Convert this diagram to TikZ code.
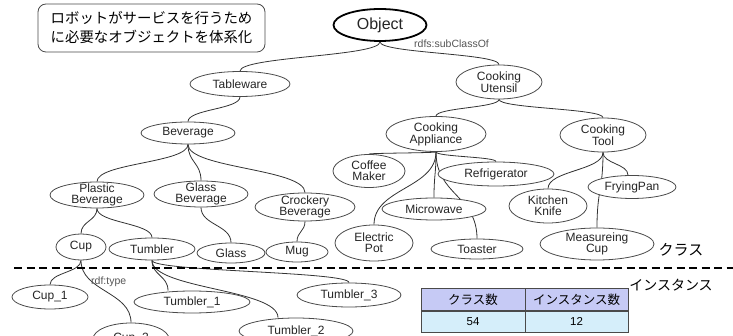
\documentclass[tikz,border=0pt]{standalone}
\usepackage{fontspec}
\setmainfont{Liberation Sans}
\newfontfamily\jp{Noto Sans CJK JP}
\usetikzlibrary{shapes.geometric,calc,backgrounds}
\definecolor{edgec}{HTML}{333333}
\definecolor{bordc}{HTML}{4A4A4A}
\definecolor{hdrc}{HTML}{C6CAF5}
\definecolor{datc}{HTML}{D5EEFA}
\definecolor{lblc}{HTML}{555555}
\begin{document}
\begin{tikzpicture}[x=1pt,y=-1pt,
  el/.style 2 args={ellipse,draw=bordc,fill=white,line width=0.8pt,inner sep=-40pt,
    minimum width=#1,minimum height=#2,align=center,
    font=\fontsize{12}{11}\selectfont,text=black!85},
  sc/.style={to path={.. controls ($(\tikztostart)!0.5!(\tikztostart|-\tikztotarget)$)
    and ($(\tikztotarget)!0.5!(\tikztotarget|-\tikztostart)$) .. (\tikztotarget)}},
  ed/.style={draw=edgec,line width=0.8pt},
  lbl/.style={anchor=west,inner sep=0pt,font=\fontsize{10.5}{10.5}\selectfont,text=lblc},
  cell/.style 2 args={draw=bordc,line width=0.8pt,fill=#1,minimum width=#2,minimum height=22pt,
    inner sep=0pt,font=\jp\fontsize{12.5}{12.5}\selectfont},
  ncell/.style 2 args={draw=bordc,line width=0.8pt,fill=#1,minimum width=#2,minimum height=21pt,
    inner sep=0pt,font=\fontsize{11.5}{11.5}\selectfont}]
\useasboundingbox (0,0) rectangle (733,336);
\clip (0,0) rectangle (733,336);

% title box
\node[draw=bordc,rounded corners=8pt,line width=0.8pt,minimum width=227pt,minimum height=48pt,
  inner sep=0pt,align=center,font=\jp\fontsize{14.4}{19}\selectfont] (title) at (151.5,28)
  {ロボットがサービスを行うため\\に必要なオブジェクトを体系化};

% nodes
\node[el={93pt}{32pt},draw=black,line width=1.8pt,font=\fontsize{16}{16}\selectfont] (obj) at (380,25) {Object};
\node[el={100pt}{25pt}] (tab) at (240,84) {Tableware};
\node[el={94pt}{22pt}] (bev) at (188,133) {Beverage};
\node[el={86pt}{34pt}] (ute) at (499,82) {Cooking\\Utensil};
\node[el={100pt}{35pt}] (app) at (436,134) {Cooking\\Appliance};
\node[el={86pt}{34pt}] (tool) at (603,135) {Cooking\\Tool};
\node[el={72pt}{33pt}] (cof) at (369,171) {Coffee\\Maker};
\node[el={116pt}{24pt}] (ref) at (496,174) {Refrigerator};
\node[el={104pt}{22pt}] (mic) at (434,209) {Microwave};
\node[el={78pt}{36pt}] (pot) at (374,243) {Electric\\Pot};
\node[el={92pt}{20pt}] (toa) at (477,249) {Toaster};
\node[el={78pt}{34pt}] (kni) at (548,206) {Kitchen\\Knife};
\node[el={88pt}{23pt}] (fry) at (632,187) {FryingPan};
\node[el={114pt}{32pt}] (mea) at (597,244) {Measureing\\Cup};
\node[el={94pt}{26pt}] (pla) at (97,195) {Plastic\\Beverage};
\node[el={94pt}{26pt}] (gla) at (201,194) {Glass\\Beverage};
\node[el={100pt}{28pt}] (cro) at (305,207) {Crockery\\Beverage};
\node[el={50pt}{26pt}] (cup) at (81,247) {Cup};
\node[el={86pt}{22pt}] (tum) at (152,249) {Tumbler};
\node[el={68pt}{20pt}] (gl) at (231,253) {Glass};
\node[el={62pt}{20pt}] (mug) at (297,252) {Mug};
\node[el={76pt}{24pt}] (c1) at (50,297) {Cup\_1};
\node[el={116pt}{22pt}] (t1) at (192,302) {Tumbler\_1};
\node[el={104pt}{24pt}] (t3) at (349,295) {Tumbler\_3};
\node[el={114pt}{26pt}] (t2) at (296,331) {Tumbler\_2};
\node[el={76pt}{32pt}] (c2) at (131,339) {Cup\_2};

% labels
\node[lbl] (lsub) at (414,44) {rdfs:subClassOf};
\node[lbl] (ltype) at (91,282) {rdf:type};
\node[font=\jp\fontsize{15}{15}\selectfont,inner sep=0pt] (lcls) at (681,250) {クラス};
\node[font=\jp\fontsize{14}{14}\selectfont,inner sep=0pt] (lins) at (671,285) {インスタンス};

% table
\node[cell={hdrc}{104pt}] (h1) at (473,299.5) {クラス数};
\node[cell={hdrc}{103pt}] (h2) at (576.5,299.5) {インスタンス数};
\node[ncell={datc}{104pt}] (d1) at (473,321.5) {54};
\node[ncell={datc}{103pt}] (d2) at (576.5,321.5) {12};

% divider
\draw[line width=1.8pt,dash pattern=on 8pt off 4.5pt] (14,268) -- (733,268);

\begin{scope}[on background layer]
\draw[ed] (obj.south) to[sc] (tab.north);
\draw[ed] (obj.south) to[sc] (ute.north);
\draw[ed] (tab.south) to[sc] (bev.north);
\draw[ed] (bev.south) to[sc] (pla.north);
\draw[ed] (bev.south) to[sc] (gla.north);
\draw[ed] (bev.south) to[sc] (cro.north);
\draw[ed] (ute.south) to[sc] (app.north);
\draw[ed] (ute.south) to[sc] (tool.north);
\draw[ed] (app.south) to[sc] (cof.north);
\draw[ed] (app.south) to[sc] (ref.north);
\draw[ed] (app.south) to[sc] (mic.north);
\draw[ed] (app.south) to[sc] (pot.north);
\draw[ed] (app.south) to[sc] (toa.north);
\draw[ed] (tool.south) to[sc] (kni.north);
\draw[ed] (tool.south) to[sc] ([xshift=-4pt]fry.north);
\draw[ed] (tool.south) to[sc] (mea.north);
\draw[ed] (pla.south) to[sc] (cup.north);
\draw[ed] (pla.south) to[sc] (tum.north);
\draw[ed] (gla.south) to[sc] (gl.north);
\draw[ed] (cro.south) to[sc] (mug.north);
\draw[ed] (cup.south) to[sc] (c1.north);
\draw[ed] (cup.south) to[sc] (c2.north);
\draw[ed] (tum.south) to[sc] ([xshift=-24pt]t1.north);
\draw[ed] (tum.south) to[sc] ([xshift=-18pt]t2.north);
\draw[ed] (tum.south) to[sc] (t3.north);
\end{scope}
\end{tikzpicture}
\end{document}
